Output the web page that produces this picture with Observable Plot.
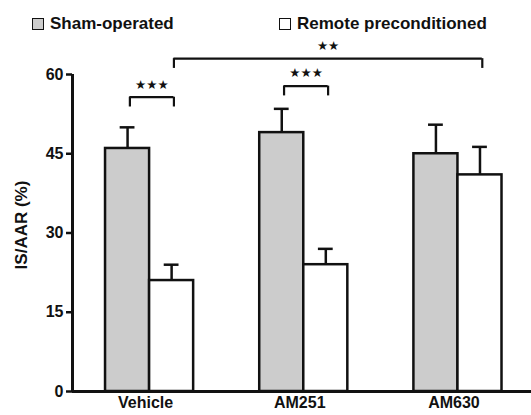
<!DOCTYPE html>
<html>
<head>
<meta charset="utf-8">
<script src="https://cdn.jsdelivr.net/npm/d3@7"></script>
<script src="https://cdn.jsdelivr.net/npm/@observablehq/plot@0.6"></script>
<style>
  body { margin: 0; background: #fff; font-family: "Liberation Sans", Arial, sans-serif; }
  #legend { position: relative; width: 531px; height: 30px; font-weight: bold; font-size: 17px; color: #111; }
  .item { position: absolute; top: 14px; display: flex; align-items: center; white-space: nowrap; }
  .sw { width: 10px; height: 10px; border: 1.5px solid #111; margin-right: 6px; }
</style>
</head>
<body>
<div id="legend"></div>
<div id="chart"></div>
<script>
const groups = ["Vehicle", "AM251", "AM630"];
const series = ["Sham-operated", "Remote preconditioned"];
const colors = ["#cccccc", "#ffffff"];
const shamMean = [46, 49, 45];
const shamSEM = [4, 4.5, 5.5];
const remoteMean = [21, 24, 41];
const remoteSEM = [3, 3, 5.3];
const yTicks = [0, 15, 30, 45, 60];
const yLabel = "IS/AAR (%)";
// significance brackets: [group, series] endpoints, level (y units), label
const brackets = [
  {a: [0, 0], b: [0, 1], level: 55.7, label: "★★★"},
  {a: [1, 0], b: [1, 1], level: 57.8, label: "★★★"},
  {a: [0, 1], b: [2, 1], level: 63.0, label: "★★"}
];

// legend
const legend = document.getElementById("legend");
[[32, 0], [279, 1]].forEach(([left, s]) => {
  const d = document.createElement("div");
  d.className = "item";
  d.style.left = left + "px";
  d.innerHTML = `<span class="sw" style="background:${colors[s]}"></span><span>${series[s]}</span>`;
  legend.appendChild(d);
});

const barW = 0.2857;
const rows = [];
groups.forEach((g, i) => {
  rows.push({g: i, s: 0, x1: i - barW, x2: i, v: shamMean[i], e: shamSEM[i]});
  rows.push({g: i, s: 1, x1: i, x2: i + barW, v: remoteMean[i], e: remoteSEM[i]});
});
const center = (gi, s) => gi + (s === 0 ? -barW / 2 : barW / 2);
const capHalf = 0.048;
const tickLen = 1.85;
const br = brackets.map(b => ({x1: center(...b.a) + 0.015, x2: center(...b.b) + 0.015, level: b.level, label: b.label}));

const chart = Plot.plot({
  width: 531,
  height: 385,
  marginLeft: 72,
  marginRight: 0,
  marginTop: 44,
  marginBottom: 24,
  style: {fontFamily: "Liberation Sans, Arial, sans-serif", fontWeight: "bold", color: "#111", background: "transparent"},
  x: {domain: [-0.5, 2.477], axis: null},
  y: {domain: [0, 60], axis: null},
  marks: [
    Plot.rectY(rows, {x1: "x1", x2: "x2", y1: 0, y2: "v", fill: d => colors[d.s], stroke: "#111", strokeWidth: 2.5}),
    Plot.ruleX(rows, {x: d => (d.x1 + d.x2) / 2, y1: "v", y2: d => d.v + d.e, stroke: "#111", strokeWidth: 2.5}),
    Plot.ruleY(rows, {y: d => d.v + d.e, x1: d => (d.x1 + d.x2) / 2 - capHalf, x2: d => (d.x1 + d.x2) / 2 + capHalf, stroke: "#111", strokeWidth: 2.5}),
    Plot.ruleY([0], {stroke: "#111", strokeWidth: 3}),
    Plot.ruleX([-0.5], {y1: 0, y2: 60, stroke: "#111", strokeWidth: 3}),
    Plot.axisY({ticks: yTicks, tickSize: 6, tickPadding: 3, fontSize: 16, strokeWidth: 2.5, label: null}),
    Plot.axisX({ticks: [0, 1, 2], tickFormat: i => groups[i], tickSize: 0, tickPadding: 5, fontSize: 16, dx: -4, label: null}),
    Plot.text([yLabel], {frameAnchor: "left", textAnchor: "middle", dx: -51, dy: -8, rotate: -90, fontSize: 17, fontWeight: "bold", fill: "#111"}),
    // brackets
    Plot.ruleY(br, {y: "level", x1: "x1", x2: "x2", stroke: "#111", strokeWidth: 2.2}),
    Plot.ruleX(br, {x: "x1", y1: d => d.level - tickLen, y2: "level", stroke: "#111", strokeWidth: 2.2}),
    Plot.ruleX(br, {x: "x2", y1: d => d.level - tickLen, y2: "level", stroke: "#111", strokeWidth: 2.2}),
    Plot.text(br, {x: d => (d.x1 + d.x2) / 2, y: d => d.level + 2.4, text: "label", fontSize: 12.5, fontFamily: "DejaVu Sans", fill: "#111"})
  ]
});
document.getElementById("chart").appendChild(chart);
</script>
</body>
</html>
